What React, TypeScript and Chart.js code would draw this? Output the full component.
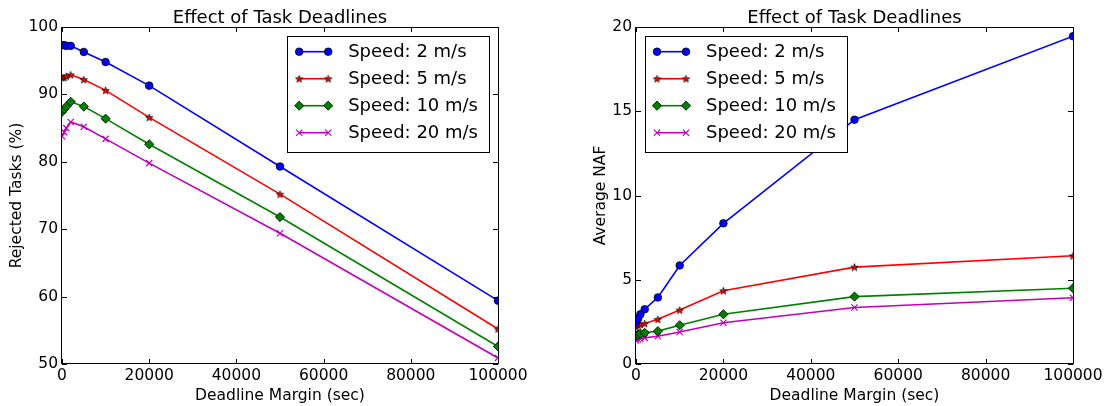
import React, { useEffect, useRef } from "react";
import { Chart, registerables } from "chart.js";
import { drawPoint } from "chart.js/helpers";

Chart.register(...registerables);

// ---------- data ----------
const deadlineMargins = [0, 500, 1000, 2000, 5000, 10000, 20000, 50000, 100000];
const speedLabels = ["Speed: 2 m/s", "Speed: 5 m/s", "Speed: 10 m/s", "Speed: 20 m/s"];

const rejectedSpeed2 = [97.3, 97.3, 97.2, 97.2, 96.3, 94.8, 91.3, 79.3, 59.4];
const rejectedSpeed5 = [92.5, 92.5, 92.7, 92.9, 92.2, 90.6, 86.6, 75.2, 55.2];
const rejectedSpeed10 = [87.4, 87.8, 88.2, 88.9, 88.2, 86.4, 82.6, 71.8, 52.6];
const rejectedSpeed20 = [83.8, 84.4, 85.0, 85.9, 85.2, 83.4, 79.8, 69.4, 50.9];

const nafSpeed2 = [2.5, 2.7, 2.95, 3.25, 3.95, 5.85, 8.35, 14.5, 19.45];
const nafSpeed5 = [2.2, 2.3, 2.35, 2.4, 2.65, 3.2, 4.35, 5.75, 6.42];
const nafSpeed10 = [1.7, 1.75, 1.8, 1.85, 1.95, 2.3, 2.95, 4.0, 4.5];
const nafSpeed20 = [1.4, 1.45, 1.5, 1.55, 1.65, 1.9, 2.45, 3.35, 3.93];

const chartTitle = "Effect of Task Deadlines";
const xAxisTitle = "Deadline Margin (sec)";
const leftYAxisTitle = "Rejected Tasks (%)";
const rightYAxisTitle = "Average NAF";

const xTickMin = 0;
const xTickMax = 100000;
const xTickStep = 20000;
const leftYTicks = { min: 50, max: 100, step: 10 };
const rightYTicks = { min: 0, max: 20, step: 5 };

// ---------- styles ----------
const FONT_FAMILY = "'DejaVu Sans', 'Liberation Sans', sans-serif";
const TICK_FONT = { family: FONT_FAMILY, size: 15.5 };
const LEGEND_FONT_SIZE = 18;
const TITLE_FONT_SIZE = 18;

function makeStar(size: number, fill: string, stroke: string) {
  const c = document.createElement("canvas");
  c.width = size;
  c.height = size;
  const ctx = c.getContext("2d")!;
  const cx = size / 2;
  const cy = size / 2 + 0.4;
  const R = size / 2 - 0.6;
  const r = R * 0.4;
  ctx.beginPath();
  for (let i = 0; i < 10; i++) {
    const ang = -Math.PI / 2 + (i * Math.PI) / 5;
    const rad = i % 2 === 0 ? R : r;
    const px = cx + rad * Math.cos(ang);
    const py = cy + rad * Math.sin(ang);
    if (i === 0) ctx.moveTo(px, py);
    else ctx.lineTo(px, py);
  }
  ctx.closePath();
  ctx.fillStyle = fill;
  ctx.fill();
  ctx.lineWidth = 0.7;
  ctx.strokeStyle = stroke;
  ctx.stroke();
  return c;
}

function seriesStyles() {
  return [
    { color: "#0000ff", pointStyle: "circle" as any, radius: 3.8, fill: "#0000ff", edge: "#000000", edgeWidth: 0.8 },
    { color: "#ff0000", pointStyle: makeStar(9, "#ff0000", "#000000") as any, radius: 4, fill: "#ff0000", edge: "#000000", edgeWidth: 0.7 },
    { color: "#008000", pointStyle: "rectRot" as any, radius: 4.6, fill: "#008000", edge: "#000000", edgeWidth: 0.8 },
    { color: "#bf00bf", pointStyle: "crossRot" as any, radius: 4.4, fill: "#bf00bf", edge: "#bf00bf", edgeWidth: 1.2 },
  ];
}

// ---------- plugin: matplotlib-like frame, ticks, title, legend ----------
const mplPlugin = {
  id: "mplFrame",
  afterDraw(chart: any, _args: any, opts: any) {
    const { ctx, chartArea: a } = chart;
    const xs = chart.scales.x;
    const ys = chart.scales.y;
    ctx.save();
    // inward ticks
    ctx.strokeStyle = "#000";
    ctx.lineWidth = 1;
    ctx.beginPath();
    const tl = 5;
    xs.ticks.forEach((t: any) => {
      const px = Math.round(xs.getPixelForValue(t.value)) + 0.5;
      ctx.moveTo(px, a.bottom);
      ctx.lineTo(px, a.bottom - tl);
      ctx.moveTo(px, a.top);
      ctx.lineTo(px, a.top + tl);
    });
    ys.ticks.forEach((t: any) => {
      const py = Math.round(ys.getPixelForValue(t.value)) + 0.5;
      ctx.moveTo(a.left, py);
      ctx.lineTo(a.left + tl, py);
      ctx.moveTo(a.right, py);
      ctx.lineTo(a.right - tl, py);
    });
    ctx.stroke();
    // frame
    ctx.strokeRect(Math.round(a.left) - 0.5, Math.round(a.top) + 0.5, Math.round(a.right - a.left) + 1, Math.round(a.bottom - a.top) - 1);

    // title
    ctx.fillStyle = "#000";
    ctx.font = `${TITLE_FONT_SIZE}px ${FONT_FAMILY}`;
    ctx.textAlign = "center";
    ctx.textBaseline = "alphabetic";
    ctx.fillText(opts.title, (a.left + a.right) / 2, a.top - 4);

    // legend
    ctx.font = `${LEGEND_FONT_SIZE}px ${FONT_FAMILY}`;
    const datasets = chart.data.datasets;
    let maxW = 0;
    datasets.forEach((d: any) => {
      maxW = Math.max(maxW, ctx.measureText(d.label).width);
    });
    const boxW = 61 + maxW + 11;
    const boxH = 116;
    const boxTop = a.top + 9;
    const boxLeft = opts.legendSide === "right" ? a.right - 9 - boxW : a.left + 9;
    ctx.fillStyle = "#ffffff";
    ctx.fillRect(boxLeft, boxTop, boxW, boxH);
    ctx.strokeStyle = "#000";
    ctx.lineWidth = 1;
    ctx.strokeRect(Math.round(boxLeft) + 0.5, Math.round(boxTop) + 0.5, Math.round(boxW), Math.round(boxH));
    datasets.forEach((d: any, i: number) => {
      const y = boxTop + 15.7 + i * 27;
      const x0 = boxLeft + 12;
      const x1 = boxLeft + 41;
      ctx.strokeStyle = d.borderColor;
      ctx.lineWidth = d.borderWidth;
      ctx.beginPath();
      ctx.moveTo(x0, y);
      ctx.lineTo(x1, y);
      ctx.stroke();
      [x0, x1].forEach((mx) => {
        ctx.fillStyle = d.pointBackgroundColor;
        ctx.strokeStyle = d.pointBorderColor;
        ctx.lineWidth = d.pointBorderWidth;
        drawPoint(ctx, { pointStyle: d.pointStyle, radius: d.pointRadius, rotation: 0, borderWidth: d.pointBorderWidth } as any, mx, y);
      });
      ctx.fillStyle = "#000";
      ctx.textAlign = "left";
      ctx.textBaseline = "middle";
      ctx.fillText(d.label, boxLeft + 61, y + 1);
    });
    ctx.restore();
  },
};

type Panel = {
  canvasLeft: number;
  canvasWidth: number;
  plotLeft: number;
  plotRight: number;
  yTicks: { min: number; max: number; step: number };
  yTitle: string;
  yTitlePad: number;
  series: number[][];
  legendSide: "left" | "right";
};

const PLOT_TOP = 27;
const PLOT_BOTTOM = 364;
const HEIGHT = 406;

function buildConfig(p: Panel): any {
  const styles = seriesStyles();
  return {
    type: "line",
    data: {
      datasets: p.series.map((vals, i) => ({
        label: speedLabels[i],
        data: deadlineMargins.map((x, j) => ({ x, y: vals[j] })),
        borderColor: styles[i].color,
        backgroundColor: styles[i].color,
        borderWidth: 1.6,
        tension: 0,
        fill: false,
        clip: 0,
        pointStyle: styles[i].pointStyle,
        pointRadius: styles[i].radius,
        pointHoverRadius: styles[i].radius,
        pointBackgroundColor: styles[i].fill,
        pointBorderColor: styles[i].edge,
        pointBorderWidth: styles[i].edgeWidth,
      })),
    },
    options: {
      responsive: false,
      animation: false,
      events: [],
      layout: {
        padding: { left: 0, right: p.canvasLeft + p.canvasWidth - p.plotRight, top: PLOT_TOP, bottom: 0 },
      },
      plugins: {
        legend: { display: false },
        title: { display: false },
        tooltip: { enabled: false },
        mplFrame: { title: chartTitle, legendSide: p.legendSide },
      },
      scales: {
        x: {
          type: "linear",
          min: xTickMin,
          max: xTickMax,
          grid: { display: false, drawTicks: false },
          border: { display: false },
          ticks: {
            stepSize: xTickStep,
            font: TICK_FONT,
            color: "#000",
            padding: 3,
            maxRotation: 0,
            autoSkip: false,
            callback: (v: any) => String(v),
          },
          title: { display: true, text: xAxisTitle, font: TICK_FONT, color: "#000", padding: { top: 0, bottom: 1 } },
          afterFit: (s: any) => {
            s.height = HEIGHT - PLOT_BOTTOM;
          },
        },
        y: {
          type: "linear",
          min: p.yTicks.min,
          max: p.yTicks.max,
          grid: { display: false, drawTicks: false },
          border: { display: false },
          ticks: {
            stepSize: p.yTicks.step,
            font: TICK_FONT,
            color: "#000",
            padding: 4,
            callback: (v: any) => String(v),
          },
          title: { display: true, text: p.yTitle, font: TICK_FONT, color: "#000", padding: { top: p.yTitlePad, bottom: 0 } },
          afterFit: (s: any) => {
            s.width = p.plotLeft - p.canvasLeft;
          },
        },
      },
    },
    plugins: [mplPlugin],
  };
}

const leftPanel: Panel = {
  canvasLeft: 0,
  canvasWidth: 555,
  plotLeft: 62,
  plotRight: 498,
  yTicks: leftYTicks,
  yTitle: leftYAxisTitle,
  yTitlePad: 8,
  series: [rejectedSpeed2, rejectedSpeed5, rejectedSpeed10, rejectedSpeed20],
  legendSide: "right",
};

const rightPanel: Panel = {
  canvasLeft: 555,
  canvasWidth: 554,
  plotLeft: 636,
  plotRight: 1073,
  yTicks: rightYTicks,
  yTitle: rightYAxisTitle,
  yTitlePad: 37,
  series: [nafSpeed2, nafSpeed5, nafSpeed10, nafSpeed20],
  legendSide: "left",
};

function PanelChart({ panel }: { panel: Panel }) {
  const ref = useRef<HTMLCanvasElement | null>(null);
  useEffect(() => {
    if (!ref.current) return;
    const chart = new Chart(ref.current, buildConfig(panel));
    return () => chart.destroy();
  }, [panel]);
  return (
    <canvas
      ref={ref}
      width={panel.canvasWidth}
      height={HEIGHT}
      style={{ position: "absolute", left: panel.canvasLeft, top: 0, width: panel.canvasWidth, height: HEIGHT }}
    />
  );
}

export default function App() {
  return (
    <div style={{ position: "absolute", left: 0, top: 0, width: 1109, height: HEIGHT, background: "#fff", overflow: "hidden" }}>
      <PanelChart panel={leftPanel} />
      <PanelChart panel={rightPanel} />
    </div>
  );
}
